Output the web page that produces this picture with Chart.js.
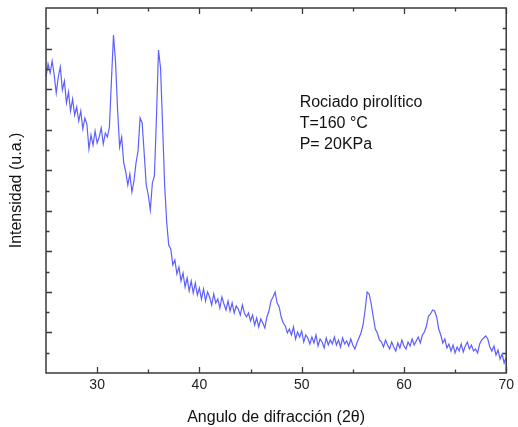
<!DOCTYPE html>
<html><head><meta charset="utf-8">
<script src="https://cdn.jsdelivr.net/npm/chart.js@4.4.1/dist/chart.umd.min.js"></script>
<style>html,body{margin:0;padding:0;background:#fff;}canvas{display:block;}</style>
</head><body>
<canvas id="c" width="518" height="427"></canvas>
<script>
// 2-theta angles (degrees)
const angles = [
25,25.2,25.4,25.6,25.8,26,26.2,26.4,26.6,26.8,
27,27.2,27.4,27.6,27.8,28,28.2,28.4,28.6,28.8,
29,29.2,29.4,29.6,29.8,30,30.2,30.4,30.6,30.8,
31,31.2,31.4,31.6,31.8,32,32.2,32.4,32.6,32.8,
33,33.2,33.4,33.6,33.8,34,34.2,34.4,34.6,34.8,
35,35.2,35.4,35.6,35.8,36,36.2,36.4,36.6,36.8,
37,37.2,37.4,37.6,37.8,38,38.2,38.4,38.6,38.8,
39,39.2,39.4,39.6,39.8,40,40.2,40.4,40.6,40.8,
41,41.2,41.4,41.6,41.8,42,42.2,42.4,42.6,42.8,
43,43.2,43.4,43.6,43.8,44,44.2,44.4,44.6,44.8,
45,45.2,45.4,45.6,45.8,46,46.2,46.4,46.6,46.8,
47,47.2,47.4,47.6,47.8,48,48.2,48.4,48.6,48.8,
49,49.2,49.4,49.6,49.8,50,50.2,50.4,50.6,50.8,
51,51.2,51.4,51.6,51.8,52,52.2,52.4,52.6,52.8,
53,53.2,53.4,53.6,53.8,54,54.2,54.4,54.6,54.8,
55,55.2,55.4,55.6,55.8,56,56.2,56.4,56.6,56.8,
57,57.2,57.4,57.6,57.8,58,58.2,58.4,58.6,58.8,
59,59.2,59.4,59.6,59.8,60,60.2,60.4,60.6,60.8,
61,61.2,61.4,61.6,61.8,62,62.2,62.4,62.6,62.8,
63,63.2,63.4,63.6,63.8,64,64.2,64.4,64.6,64.8,
65,65.2,65.4,65.6,65.8,66,66.2,66.4,66.6,66.8,
67,67.2,67.4,67.6,67.8,68,68.2,68.4,68.6,68.8,
69,69.2,69.4,69.6,69.8,70
];
// intensity (arbitrary units)
const intensity = [
296,309,300,312,298,280,296,306,283,292,
270,281,262,274,258,266,252,262,244,255,
249,224,238,228,242,230,236,245,229,240,
236,246,293,338,311,263,226,236,210,201,
188,199,181,192,210,222,255,250,220,188,
178,163,190,197,255,323,305,248,188,151,
128,124,108,113,99,106,92,100,86,95,
82,92,80,90,78,85,74,84,72,81,
76,68,79,70,74,65,76,69,63,72,
62,70,60,67,64,58,68,60,56,60,
52,58,48,55,46,54,50,45,56,62,
72,76,81,70,66,56,50,47,40,44,
38,46,34,41,36,42,31,38,35,29,
36,30,38,27,34,31,25,35,28,33,
29,36,28,33,26,35,29,32,27,34,
28,24,30,35,40,48,63,81,79,69,
56,44,40,33,31,26,33,28,24,31,
26,22,30,25,33,27,24,31,27,34,
28,32,36,30,38,41,47,57,59,63,
62,56,44,38,30,34,25,29,22,28,
20,26,22,29,21,27,31,24,28,22,
24,20,29,33,35,37,34,26,22,27,
18,23,14,19,10,16
];
const xTickLabels = [30, 40, 50, 60, 70];
const xMinorTicks = [35, 45, 55, 65];
const X_MIN = 25, X_MAX = 70;
const Y_MIN = 0, Y_MAX = 365, Y_DIVISIONS = 18;
const annotationLines = ["Rociado pirolítico", "T=160 °C", "P= 20KPa"];
const annotationAnchor = {x: 49.8, y: 266};

const FONT = "'Liberation Sans', Arial, sans-serif";
const AXIS_COLOR = '#3a3a3a';

const frameTicks = {
  id: 'frameTicks',
  afterDatasetsDraw(chart) {
    const {ctx, chartArea: a, scales: {x, y}} = chart;
    ctx.save();
    ctx.strokeStyle = AXIS_COLOR;
    ctx.lineWidth = 1.5;
    ctx.strokeRect(a.left, a.top, a.right - a.left, a.bottom - a.top);
    ctx.lineWidth = 1.3;
    ctx.beginPath();
    const xt = (v, len) => {
      const px = Math.round(x.getPixelForValue(v)) + 0.5;
      ctx.moveTo(px, a.bottom); ctx.lineTo(px, a.bottom - len);
      ctx.moveTo(px, a.top); ctx.lineTo(px, a.top + len);
    };
    xTickLabels.forEach(v => xt(v, 6));
    xMinorTicks.forEach(v => xt(v, 3.5));
    for (let i = 1; i < Y_DIVISIONS; i++) {
      const v = Y_MIN + (Y_MAX - Y_MIN) * i / Y_DIVISIONS;
      const py = Math.round(y.getPixelForValue(v)) + 0.5;
      const len = (i % 2 === 0) ? 6 : 3.5;
      ctx.moveTo(a.left, py); ctx.lineTo(a.left + len, py);
      ctx.moveTo(a.right, py); ctx.lineTo(a.right - len, py);
    }
    ctx.stroke();
    // annotation text
    ctx.fillStyle = '#111';
    ctx.font = "16px " + FONT;
    ctx.textBaseline = 'alphabetic';
    ctx.textAlign = 'left';
    const ax = x.getPixelForValue(annotationAnchor.x);
    const ay = y.getPixelForValue(annotationAnchor.y);
    annotationLines.forEach((t, i) => ctx.fillText(t, ax, ay + i * 21));
    ctx.restore();
  }
};

new Chart(document.getElementById('c'), {
  type: 'line',
  data: {
    datasets: [{
      data: angles.map((a, i) => ({x: a, y: intensity[i]})),
      borderColor: 'rgba(40,40,255,0.75)',
      borderWidth: 1.2,
      pointRadius: 0,
      tension: 0,
      fill: false
    }]
  },
  options: {
    responsive: false,
    animation: false,
    devicePixelRatio: 1,
    layout: {padding: {left: 0, right: 8, top: 8, bottom: 0}},
    plugins: {legend: {display: false}, tooltip: {enabled: false}},
    scales: {
      x: {
        type: 'linear', min: X_MIN, max: X_MAX,
        afterBuildTicks: s => { s.ticks = xTickLabels.map(v => ({value: v})); },
        afterFit: s => { s.height = 54; },
        grid: {display: false, drawTicks: false},
        border: {display: false},
        ticks: {color: '#222', font: {family: FONT, size: 14}, padding: 4, maxRotation: 0, autoSkip: false},
        title: {display: true, text: 'Angulo de difracción (2θ)', color: '#111',
                font: {family: FONT, size: 16}, padding: {top: 0, bottom: 0}}
      },
      y: {
        type: 'linear', min: Y_MIN, max: Y_MAX,
        afterFit: s => { s.width = 46; },
        grid: {display: false, drawTicks: false},
        border: {display: false},
        ticks: {display: false},
        title: {display: true, text: 'Intensidad (u.a.)', color: '#111',
                font: {family: FONT, size: 16}, padding: {top: 7, bottom: 0}}
      }
    }
  },
  plugins: [frameTicks]
});
</script>
</body></html>
